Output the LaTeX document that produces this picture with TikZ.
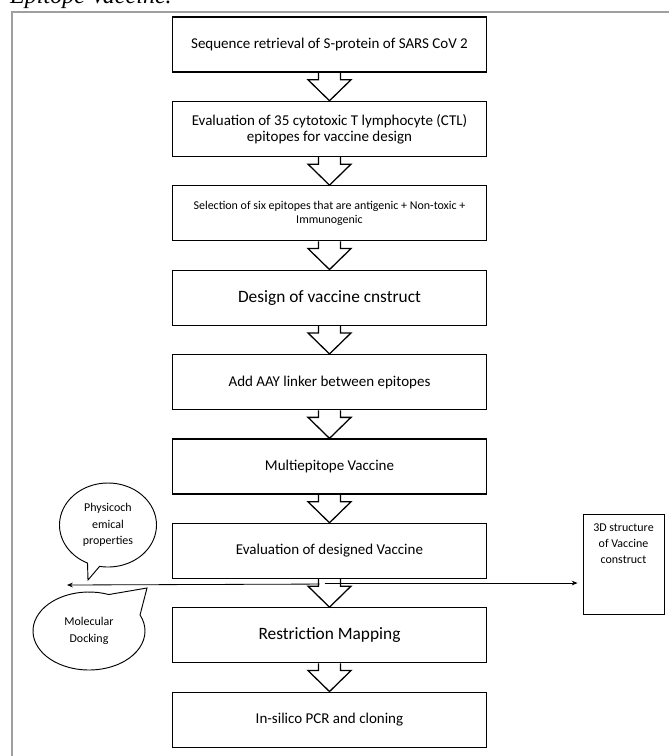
\documentclass[tikz,border=0pt]{standalone}
\usepackage{fontspec}
\setmainfont{Carlito}
\newfontfamily\titlefont{Liberation Serif}
\usepackage{tikz}
\usetikzlibrary{arrows.meta,calc,shapes.callouts}
\newcommand{\fs}[2]{\fontsize{#1}{#2}\selectfont}
% hollow block arrow from the bottom of one step to the top of the next
\newcommand{\blk}[2]{\draw[blockarrow] ($(#1.south)+(-11,0)$) --
  ($(#2.north)+(-11,-21)$) -- ($(#2.north)+(-21.5,-21)$) -- (#2.north) --
  ($(#2.north)+(21.5,-21)$) -- ($(#2.north)+(11,-21)$) -- ($(#1.south)+(11,0)$);}

\begin{document}
\begin{tikzpicture}[x=0.03cm,y=-0.03cm,
  stepbox/.style={draw,line width=1.1pt,minimum width=9.42cm,minimum
  height=1.65cm,align=center,font=\fs{12.8}{13.6}},
  bigstep/.style={stepbox,font=\fs{14.8}{16}},
  smallstep/.style={stepbox,font=\fs{10.2}{12}},
  blockarrow/.style={line width=1.1pt,line join=miter},
  bubble/.style={ellipse callout,draw,line width=0.8pt,align=center,inner
  sep=1pt,font=\fs{10.2}{14.2}},
  side/.style={-{Stealth[length=5pt,width=4pt]},line width=0.7pt},
  frame/.style={draw=gray!75,line width=1.4pt}]
\useasboundingbox (0,0) rectangle (668,756);
\node[anchor=base west,inner sep=0pt,font=\titlefont\itshape\fs{20.5}{24}]
  (title) at (10,4) {Epitope Vaccine.};
\draw[frame] (12,770) -- (12,12) -- (690,12);
\node[stepbox] (seq) at (329.5,44.5) {Sequence retrieval of S-protein of SARS CoV 2};
\node[stepbox] (ctl) at (329.5,128.9) {Evaluation of 35 cytotoxic T lymphocyte (CTL)\\epitopes for vaccine design};
\node[smallstep] (sel) at (329.5,213.3) {Selection of six epitopes that are antigenic + Non-toxic +\\Immunogenic};
\node[bigstep] (design) at (329.5,297.7) {Design of vaccine cnstruct};
\node[stepbox] (linker) at (329.5,382.1) {Add AAY linker between epitopes};
\node[stepbox] (multi) at (329.5,466.5) {Multiepitope Vaccine};
\node[stepbox] (eval) at (329.5,550.9) {Evaluation of designed Vaccine};
\node[bigstep] (restr) at (329.5,635.3) {Restriction Mapping};
\node[stepbox] (pcr) at (329.5,719.7) {In-silico PCR and cloning};
\blk{seq}{ctl} \blk{ctl}{sel} \blk{sel}{design} \blk{design}{linker}
\blk{linker}{multi} \blk{multi}{eval} \blk{eval}{restr} \blk{restr}{pcr}
% analyses branching off the evaluation step
\node[bubble,minimum width=2.91cm,minimum height=2.52cm,
  callout absolute pointer={(88,580)}] (phys) at (108,525)
  {Physicoch\\emical\\properties};
\node[bubble,minimum width=3.36cm,minimum height=2.34cm,callout pointer
  arc=45,callout absolute pointer={(147,588)}] (dock) at (89,631)
  {Molecular\\Docking};
\node[draw,line width=0.8pt,inner sep=0pt,font=\fs{10.2}{14}] (struct) at
  (623.5,564) {\parbox[c][3cm][t]{2.43cm}{\centering\vspace{8pt}3D
  structure\\of Vaccine\\construct}};
\coordinate (hubL) at ($(eval.south)+(-10,5)$);
\coordinate (hubR) at ($(eval.south)+(-5,4)$);
\coordinate (leftend) at (67,585);
\draw[side] (hubL) -- (leftend);
\draw[side,shorten >=0.15cm] (hubR) -- (hubR -| struct.west);
\end{tikzpicture}
\end{document}
